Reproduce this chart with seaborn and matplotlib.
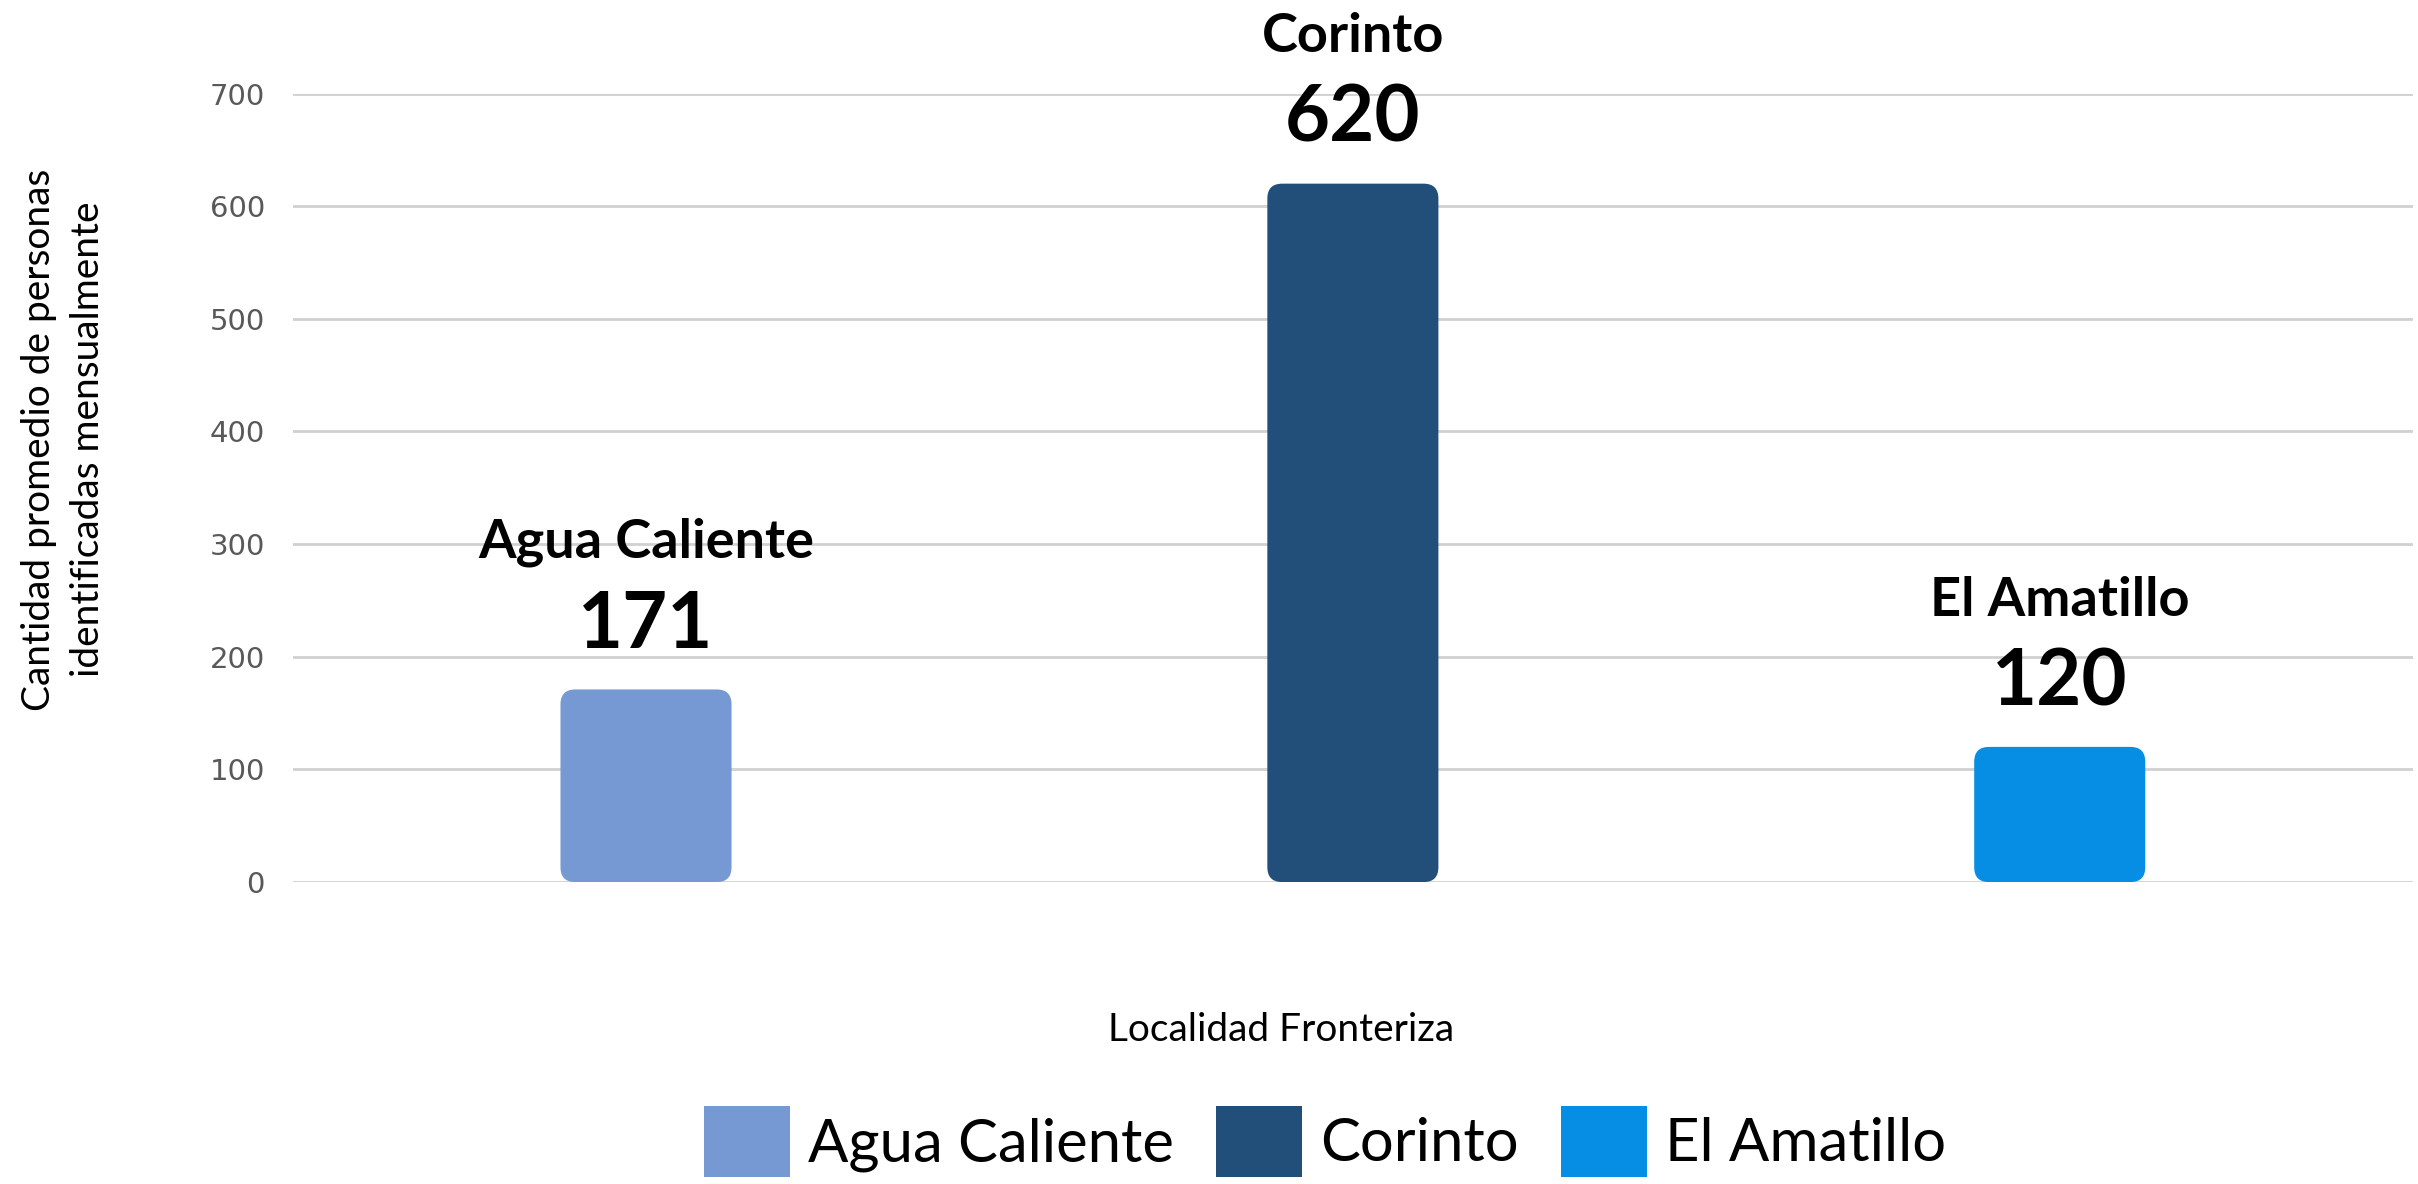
import matplotlib
matplotlib.use("Agg")
import matplotlib.pyplot as plt
import seaborn as sns
import pandas as pd
from matplotlib.patches import FancyBboxPatch, Patch

# data
localidades = ['Agua Caliente', 'Corinto', 'El Amatillo']
promedio = [171, 620, 120]
colores = ['#7799D3', '#214F7A', '#058EE3']
yticks = [0, 100, 200, 300, 400, 500, 600, 700]

df = pd.DataFrame({'localidad': localidades, 'promedio': promedio})

sns.set_theme(style='white')
plt.rcParams['font.family'] = ['Lato', 'DejaVu Sans']

fig = plt.figure(figsize=(24.18, 11.84), dpi=100)
ax = fig.add_axes([0.121, 0.255, 0.877, 0.666])

sns.barplot(data=df, x='localidad', y='promedio', hue='localidad',
            palette=colores, saturation=1, dodge=False, width=0.242,
            legend=False, ax=ax)

ax.set_ylim(0, 700)
ax.set_xlim(-0.5, 2.5)
ax.set_yticks(yticks)
ax.yaxis.grid(True, color='#D0D0D0', linewidth=2)
ax.set_axisbelow(True)
for s in ax.spines.values():
    s.set_visible(False)
ax.tick_params(axis='y', length=0, pad=20, labelsize=21, labelcolor='#595959')
ax.tick_params(axis='x', length=0)
ax.set_xticklabels([])
for t in ax.get_yticklabels():
    t.set_family('DejaVu Sans')

# swap the flat bars for rounded ones
for bar in list(ax.patches):
    x, y = bar.get_x(), bar.get_y()
    w, h = bar.get_width(), bar.get_height()
    rb = FancyBboxPatch((x, y), w, h,
                        boxstyle='round,pad=0,rounding_size=0.021',
                        mutation_aspect=630,
                        facecolor=bar.get_facecolor(), edgecolor='none', zorder=3)
    bar.remove()
    ax.add_patch(rb)

    # labels over each bar
    i = int(round(x + w / 2))
    ax.annotate(f'{promedio[i]}', (x + w / 2, h), xytext=(0, 20), textcoords='offset points',
                ha='center', va='bottom', fontsize=56, fontweight='bold', color='black',
                annotation_clip=False)
    ax.annotate(localidades[i], (x + w / 2, h), xytext=(0, 88), textcoords='offset points',
                ha='center', va='bottom', fontsize=39, fontweight='bold', color='black',
                annotation_clip=False)

ax.set_xlabel('Localidad Fronteriza', fontsize=28, color='black')
ax.xaxis.set_label_coords(0.466, -0.188)
ax.xaxis.label.set_va('center')

ax.set_ylabel('Cantidad promedio de personas\nidentificadas mensualmente',
              fontsize=28, color='black', linespacing=1.45)
ax.yaxis.set_label_coords(-0.108, 0.561)
ax.yaxis.label.set_va('center')

handles = [Patch(facecolor=c, edgecolor='none') for c in colores]
fig.legend(handles, localidades, loc='center', bbox_to_anchor=(0.548, 0.036), ncol=3,
           frameon=False, fontsize=43, handlelength=1.45, handleheight=1.45,
           handletextpad=0.3, columnspacing=0.7, labelcolor='black')

fig.savefig('out.png', dpi=100)
